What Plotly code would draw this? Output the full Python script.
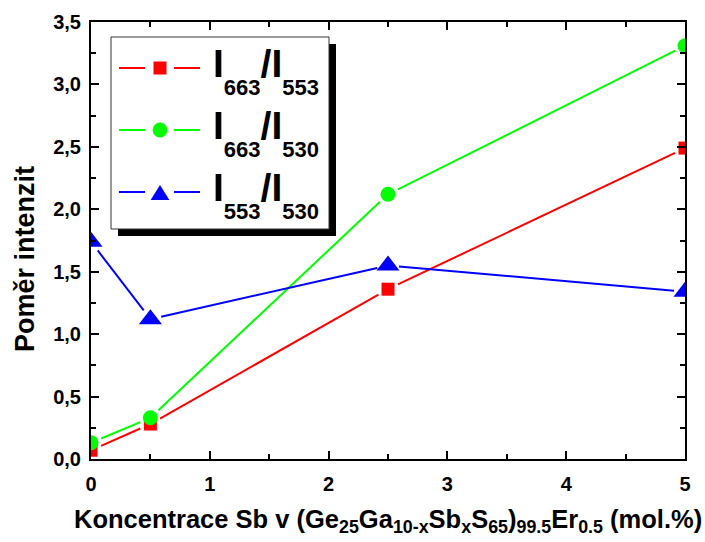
import plotly.graph_objects as go

# ---- data ----
x_conc = [0, 0.5, 2.5, 5]
r_663_553 = [0.07, 0.28, 1.36, 2.49]
r_663_530 = [0.13, 0.33, 2.12, 3.31]
r_553_530 = [1.74, 1.12, 1.55, 1.34]
series_names = ["I663/I553", "I663/I530", "I553/I530"]
SUBSTY = "<sub><sub><sub><span style=\"font-size:22px\">%s</span></sub></sub></sub>"
legend_labels = [
    "I" + SUBSTY % "663" + "/I" + SUBSTY % "553",
    "I" + SUBSTY % "663" + "/I" + SUBSTY % "530",
    "I" + SUBSTY % "553" + "/I" + SUBSTY % "530",
]
y_ticks = [0, 0.5, 1.0, 1.5, 2.0, 2.5, 3.0, 3.5]
x_ticks = [0, 1, 2, 3, 4, 5]

# ---- layout geometry ----
W, H = 705, 542
L, R, T, B = 91, 20, 22, 83
PW, PH = W - L - R, H - T - B
XR = (0, 5)
YR = (0, 3.5)
FONT = "Liberation Sans, Arial, sans-serif"

colors = ["#FF0000", "#00FF00", "#0000FF"]
symbols = ["square", "circle", "triangle-up"]
msizes = [13, 15, 20]
gap = 11  # px gap between line and marker


def d2p(x, y):
    return (L + (x - XR[0]) / (XR[1] - XR[0]) * PW,
            T + PH - (y - YR[0]) / (YR[1] - YR[0]) * PH)


def p2d(X, Y):
    return (XR[0] + (X - L) / PW * (XR[1] - XR[0]),
            YR[0] + (T + PH - Y) / PH * (YR[1] - YR[0]))


def gapped(xs, ys):
    gx, gy = [], []
    for i in range(len(xs) - 1):
        X0, Y0 = d2p(xs[i], ys[i])
        X1, Y1 = d2p(xs[i + 1], ys[i + 1])
        dx, dy = X1 - X0, Y1 - Y0
        n = (dx * dx + dy * dy) ** 0.5
        ux, uy = dx / n, dy / n
        a = p2d(X0 + ux * gap, Y0 + uy * gap)
        b = p2d(X1 - ux * gap, Y1 - uy * gap)
        gx += [a[0], b[0], None]
        gy += [a[1], b[1], None]
    return gx, gy


fig = go.Figure()
all_series = [r_663_553, r_663_530, r_553_530]
for ys, c, name in zip(all_series, colors, series_names):
    gx, gy = gapped(x_conc, ys)
    fig.add_trace(go.Scatter(x=gx, y=gy, mode="lines", line=dict(color=c, width=2),
                             showlegend=False, hoverinfo="skip"))
for ys, c, s, ms, name in zip(all_series, colors, symbols, msizes, series_names):
    fig.add_trace(go.Scatter(x=x_conc, y=ys, mode="markers", name=name,
                             marker=dict(color=c, symbol=s, size=ms, line=dict(width=0)),
                             showlegend=False))


def px(X):
    return (X - L) / PW


def py(Y):
    return (T + PH - Y) / PH


shapes = []
annotations = []
# legend shadow and box
shapes.append(dict(type="rect", xref="paper", yref="paper", x0=px(118), x1=px(336),
                   y0=py(44), y1=py(236), fillcolor="black", line=dict(width=0), layer="above"))
shapes.append(dict(type="rect", xref="paper", yref="paper", x0=px(111), x1=px(329),
                   y0=py(37), y1=py(229), fillcolor="white", line=dict(color="#333333", width=1),
                   layer="above"))
rows = [68, 130, 192]
for rowy, c, s, lab in zip(rows, colors, symbols, legend_labels):
    shapes.append(dict(type="line", xref="paper", yref="paper", x0=px(119), x1=px(145),
                       y0=py(rowy), y1=py(rowy), line=dict(color=c, width=2), layer="above"))
    shapes.append(dict(type="line", xref="paper", yref="paper", x0=px(174), x1=px(200),
                       y0=py(rowy), y1=py(rowy), line=dict(color=c, width=2), layer="above"))
    if s == "square":
        shapes.append(dict(type="rect", xref="paper", yref="paper", x0=px(153.5), x1=px(166.5),
                           y0=py(rowy - 6.5), y1=py(rowy + 6.5), fillcolor=c,
                           line=dict(width=0), layer="above"))
    elif s == "circle":
        shapes.append(dict(type="circle", xref="paper", yref="paper", x0=px(152.6), x1=px(167.4),
                           y0=py(rowy - 7.4), y1=py(rowy + 7.4), fillcolor=c,
                           line=dict(width=0), layer="above"))
    else:
        path = "M %f %f L %f %f L %f %f Z" % (px(150.6), py(rowy + 8), px(169.4), py(rowy + 8),
                                                px(160), py(rowy - 7))
        shapes.append(dict(type="path", xref="paper", yref="paper", path=path, fillcolor=c,
                           line=dict(width=0), layer="above"))
    annotations.append(dict(text=lab, xref="paper", yref="paper", x=px(211), y=py(rowy + 3),
                            xanchor="left", yanchor="middle", showarrow=False,
                            font=dict(family=FONT, size=39, color="black", weight="bold")))

# axis titles
annotations.append(dict(text="Poměr intenzit", xref="paper", yref="paper", x=px(25), y=py(259),
                        xanchor="center", yanchor="middle", textangle=-90, showarrow=False,
                        font=dict(family=FONT, size=27, color="black", weight="bold")))
annotations.append(dict(
    text="Koncentrace Sb v (Ge<sub>25</sub>Ga<sub>10-x</sub>Sb<sub>x</sub>S<sub>65</sub>)<sub>99.5</sub>Er<sub>0.5</sub> (mol.%)",
    xref="paper", yref="paper", x=px(388), y=py(503), xanchor="center", yanchor="top",
    showarrow=False, font=dict(family=FONT, size=25.5, color="black", weight="bold")))

axis_common = dict(showline=True, linecolor="black", linewidth=2, mirror="ticks",
                   ticks="inside", ticklen=8, tickwidth=2, tickcolor="black",
                   showgrid=False, zeroline=False,
                   tickfont=dict(family=FONT, size=20, color="black", weight="bold"))

fig.update_layout(
    width=W, height=H,
    margin=dict(l=L, r=R, t=T, b=B),
    paper_bgcolor="white", plot_bgcolor="white",
    separators=", ",
    showlegend=False,
    shapes=shapes, annotations=annotations,
    xaxis=dict(range=list(XR), tickvals=x_ticks, ticktext=[str(v) for v in x_ticks],
               minor=dict(dtick=0.5, ticks="inside", ticklen=5, tickwidth=2, tickcolor="black"),
               ticklabelstandoff=6, **axis_common),
    yaxis=dict(range=list(YR), tickvals=y_ticks, tickformat=".1f",
               minor=dict(dtick=0.25, ticks="inside", ticklen=5, tickwidth=2, tickcolor="black"),
               ticklabelstandoff=4, **axis_common),
)

fig.write_html("out.html", config={"displayModeBar": False},
               post_script="document.body.style.margin='0';document.body.style.padding='0';")
